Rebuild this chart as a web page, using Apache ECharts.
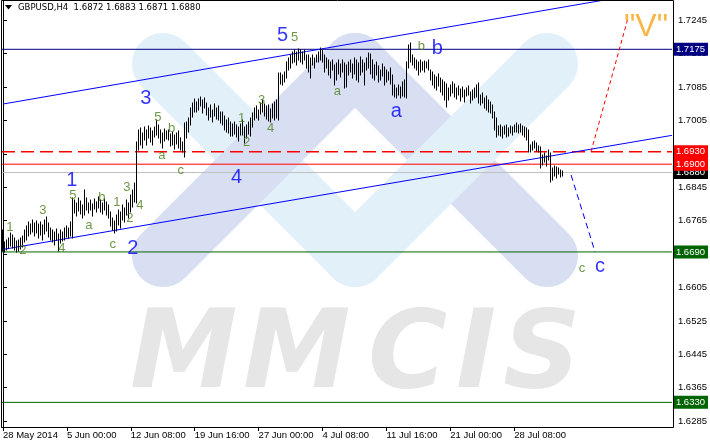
<!DOCTYPE html>
<html>
<head>
<meta charset="utf-8">
<script src="https://cdn.jsdelivr.net/npm/echarts@6.0.0/dist/echarts.min.js"></script>
<style>
  html, body { margin: 0; padding: 0; background: #fff; }
  #chart { width: 710px; height: 445px; }
</style>
</head>
<body>
<div id="chart"></div>
<script>
// GBPUSD H4, one value per bar (28 May 2014 16:00 ... 1 Aug 2014)
var highs = [
  1.6742,1.6714,1.6718,1.6723,1.6735,1.6730,1.6723,1.6716,1.6718,1.6723,
  1.6728,1.6742,1.6752,1.6761,1.6757,1.6766,1.6759,1.6764,1.6757,1.6761,
  1.6754,1.6766,1.6773,1.6759,1.6747,1.6742,1.6737,1.6745,1.6733,1.6742,
  1.6737,1.6747,1.6752,1.6747,1.6761,1.6819,1.6814,1.6807,1.6819,1.6812,
  1.6802,1.6838,1.6819,1.6807,1.6814,1.6805,1.6816,1.6809,1.6821,1.6814,
  1.6807,1.6816,1.6809,1.6802,1.6785,1.6771,1.6764,1.6778,1.6790,1.6785,
  1.6802,1.6795,1.6814,1.6807,1.6826,1.6838,1.6855,1.6953,1.6982,1.6986,
  1.6974,1.6989,1.6982,1.6991,1.6986,1.6979,1.6989,1.7006,1.6994,1.6982,
  1.6974,1.6984,1.6979,1.6982,1.6972,1.6977,1.6970,1.6974,1.6979,1.6962,
  1.6953,1.6998,1.7001,1.7010,1.7034,1.7046,1.7056,1.7049,1.7056,1.7061,
  1.7053,1.7058,1.7046,1.7034,1.7042,1.7030,1.7044,1.7034,1.7039,1.7025,
  1.7025,1.7015,1.7006,1.7010,1.7001,1.6996,1.7001,1.6994,1.6989,1.6996,
  1.7006,1.6989,1.6994,1.7001,1.7010,1.7022,1.7034,1.7039,1.7030,1.7046,
  1.7053,1.7044,1.7039,1.7042,1.7032,1.7044,1.7049,1.7053,1.7118,1.7118,
  1.7113,1.7121,1.7144,1.7154,1.7161,1.7168,1.7173,1.7168,1.7176,1.7173,
  1.7168,1.7173,1.7161,1.7161,1.7154,1.7161,1.7154,1.7161,1.7168,1.7178,
  1.7173,1.7161,1.7154,1.7149,1.7144,1.7149,1.7137,1.7142,1.7149,1.7140,
  1.7149,1.7142,1.7137,1.7144,1.7149,1.7140,1.7154,1.7149,1.7142,1.7156,
  1.7149,1.7142,1.7154,1.7166,1.7164,1.7149,1.7137,1.7144,1.7135,1.7125,
  1.7140,1.7132,1.7125,1.7121,1.7130,1.7113,1.7089,1.7082,1.7089,1.7085,
  1.7097,1.7101,1.7144,1.7185,1.7190,1.7161,1.7154,1.7149,1.7144,1.7149,
  1.7144,1.7147,1.7144,1.7149,1.7125,1.7121,1.7113,1.7109,1.7116,1.7106,
  1.7101,1.7097,1.7092,1.7082,1.7089,1.7097,1.7092,1.7082,1.7087,1.7080,
  1.7085,1.7077,1.7082,1.7087,1.7073,1.7077,1.7082,1.7089,1.7094,1.7065,
  1.7070,1.7058,1.7063,1.7053,1.7049,1.7042,1.7025,1.7010,1.6991,1.6994,
  1.6989,1.6991,1.6994,1.6986,1.6991,1.6989,1.6994,1.6998,1.6994,1.6996,
  1.6991,1.6989,1.6986,1.6982,1.6946,1.6953,1.6955,1.6951,1.6943,1.6941,
  1.6922,1.6927,1.6919,1.6934,1.6927,1.6891,1.6895,1.6893,1.6891,1.6886,
  1.6883
];
var lows = [
  1.6692,1.6690,1.6694,1.6699,1.6704,1.6699,1.6694,1.6690,1.6692,1.6697,
  1.6702,1.6714,1.6718,1.6728,1.6733,1.6737,1.6728,1.6735,1.6723,1.6730,
  1.6718,1.6733,1.6740,1.6726,1.6718,1.6714,1.6706,1.6718,1.6692,1.6711,
  1.6716,1.6718,1.6726,1.6723,1.6728,1.6723,1.6783,1.6776,1.6788,1.6781,
  1.6771,1.6778,1.6790,1.6783,1.6790,1.6776,1.6793,1.6785,1.6795,1.6785,
  1.6781,1.6790,1.6778,1.6771,1.6752,1.6742,1.6735,1.6740,1.6754,1.6747,
  1.6766,1.6761,1.6778,1.6771,1.6785,1.6797,1.6809,1.6807,1.6934,1.6946,
  1.6939,1.6958,1.6946,1.6962,1.6953,1.6946,1.6965,1.6970,1.6962,1.6951,
  1.6939,1.6955,1.6960,1.6958,1.6943,1.6946,1.6936,1.6948,1.6939,1.6934,
  1.6929,1.6917,1.6962,1.6977,1.6994,1.7013,1.7025,1.7025,1.7030,1.7039,
  1.7022,1.7034,1.7018,1.7006,1.7013,1.7001,1.7015,1.7008,1.7006,1.6998,
  1.6994,1.6982,1.6977,1.6974,1.6967,1.6967,1.6972,1.6965,1.6955,1.6970,
  1.6970,1.6951,1.6962,1.6972,1.6967,1.6989,1.7006,1.7010,1.7006,1.7020,
  1.7025,1.7015,1.7008,1.7003,1.7001,1.7010,1.7006,1.7010,1.7006,1.7092,
  1.7089,1.7097,1.7106,1.7125,1.7130,1.7142,1.7144,1.7137,1.7149,1.7144,
  1.7140,1.7149,1.7130,1.7121,1.7106,1.7137,1.7130,1.7144,1.7144,1.7149,
  1.7144,1.7121,1.7130,1.7113,1.7106,1.7125,1.7089,1.7101,1.7116,1.7109,
  1.7121,1.7082,1.7085,1.7113,1.7121,1.7106,1.7116,1.7101,1.7097,1.7113,
  1.7121,1.7089,1.7125,1.7130,1.7116,1.7106,1.7101,1.7113,1.7097,1.7101,
  1.7111,1.7089,1.7097,1.7101,1.7092,1.7065,1.7061,1.7058,1.7065,1.7058,
  1.7063,1.7061,1.7058,1.7130,1.7144,1.7137,1.7130,1.7125,1.7113,1.7121,
  1.7125,1.7121,1.7130,1.7125,1.7101,1.7089,1.7082,1.7077,1.7087,1.7073,
  1.7065,1.7053,1.7037,1.7053,1.7063,1.7070,1.7061,1.7056,1.7065,1.7051,
  1.7061,1.7049,1.7063,1.7065,1.7046,1.7053,1.7058,1.7061,1.7046,1.7042,
  1.7046,1.7034,1.7030,1.7025,1.7022,1.7010,1.6982,1.6965,1.6970,1.6967,
  1.6962,1.6972,1.6965,1.6967,1.6974,1.6970,1.6977,1.6977,1.6974,1.6977,
  1.6970,1.6965,1.6958,1.6929,1.6929,1.6934,1.6939,1.6931,1.6929,1.6891,
  1.6898,1.6905,1.6895,1.6910,1.6857,1.6862,1.6872,1.6867,1.6876,1.6869,
  1.6871
];
var lastBar = [1.6872, 1.6883, 1.6871, 1.6880]; // O H L C

var timeIndex = [0, 32, 64, 96, 128, 160, 192, 224, 256];
var timeLabels = ['28 May 2014', '5 Jun 00:00', '12 Jun 08:00', '19 Jun 16:00', '27 Jun 00:00',
                  '4 Jul 08:00', '11 Jul 16:00', '21 Jul 00:00', '28 Jul 08:00'];
var priceTicks = [1.6285, 1.6365, 1.6445, 1.6525, 1.6605, 1.6685, 1.6765,
                  1.6845, 1.6925, 1.7005, 1.7085, 1.7165, 1.7245];

// horizontal levels
var levelResistance = 1.7175;
var levelDashed = 1.6930;
var levelRed = 1.6900;
var levelBid = 1.6880;
var levelTarget = 1.6690;
var levelLow = 1.6330;

// channel and projections, [bar index, price]
var upperChannel = [[0, 1.7044], [335, 1.7321]];
var lowerChannel = [[0, 1.6696], [335, 1.6969]];
var vPath = [[294.5, 1.6930], [313, 1.7250]];
var cPath = [[284.5, 1.6874], [296.5, 1.6690]];

// wave counts, [bar index, price, text]
var bigWaves = [
  [34.5, 1.6860, '1'], [65, 1.6699, '2'], [71.5, 1.7058, '3'], [117, 1.6869, '4'],
  [140, 1.7209, '5'], [197, 1.7027, 'a'], [217.5, 1.7178, 'b'], [299, 1.6654, 'c']
];
var smallWaves = [
  [3.5, 1.6749, '1'], [10, 1.6694, '2'], [20, 1.6790, '3'], [29.5, 1.6699, '4'],
  [35, 1.6826, '5'], [43, 1.6754, 'a'], [49.5, 1.6821, 'b'], [55, 1.6709, 'c'],
  [57, 1.6809, '1'], [63.5, 1.6771, '2'], [62, 1.6845, '3'], [68.5, 1.6802, '4'],
  [77.5, 1.7013, '5'], [79.5, 1.6922, 'a'], [84.5, 1.6986, 'b'], [89, 1.6886, 'c'],
  [119.5, 1.7010, '1'], [122, 1.6951, '2'], [129.5, 1.7053, '3'], [134, 1.6986, '4'],
  [146, 1.7204, '5'], [167.5, 1.7073, 'a'], [209.5, 1.7183, 'b'], [290, 1.6651, 'c']
];
var vLabel = [[322, 1.7228, '"V"']];

var bars = highs.map(function (h, i) { return [i, lows[i], h]; });

// horizontal level as a line across the grid with a price box at the right
function levelSeries(value, color, boxColor, dashed) {
  return {
    type: 'line', data: [[-0.5, value], [335, value]], symbol: 'none', silent: true, z: 3,
    lineStyle: { color: color, width: dashed ? 1.5 : 1, type: dashed ? [13, 6] : 'solid' },
    endLabel: {
      show: true, distance: 1,
      formatter: value.toFixed(4),
      color: '#fff', backgroundColor: boxColor,
      fontSize: 9.5, fontFamily: 'Liberation Sans',
      padding: [1, 3, 1, 3], lineHeight: 11
    }
  };
}

function labelSeries(data, size, color) {
  return {
    type: 'scatter', data: data, symbolSize: 1, silent: true,
    itemStyle: { color: 'rgba(0,0,0,0)' },
    label: {
      show: true, position: 'inside',
      formatter: function (p) { return p.value[2]; },
      fontSize: size, color: color, fontFamily: 'Liberation Sans'
    },
    z: 6
  };
}

var logoFont = 'italic bold 108px "DejaVu Sans"';
function logoLetter(ch, x) {
  return { type: 'text', z: 0, style: { text: ch, x: x, y: 413, fill: '#e6e6e6', font: logoFont, align: 'left', verticalAlign: 'bottom' } };
}

var chart = echarts.init(document.getElementById('chart'));
chart.setOption({
  animation: false,
  backgroundColor: '#fff',
  grid: { left: 2, right: 37, top: 0, bottom: 18 },
  graphic: [
    // watermark logo
    { type: 'line', z: 0, shape: { x1: 163, y1: 64, x2: 355, y2: 256 },
      style: { stroke: '#e2f0fa', lineWidth: 62, lineCap: 'round' } },
    { type: 'line', z: 0, shape: { x1: 355, y1: 64, x2: 547, y2: 256 },
      style: { stroke: '#d9dff3', lineWidth: 62, lineCap: 'round' } },
    { type: 'line', z: 0, shape: { x1: 355, y1: 256, x2: 547, y2: 64 },
      style: { stroke: '#e2f0fa', lineWidth: 62, lineCap: 'round' } },
    { type: 'line', z: 0, shape: { x1: 163, y1: 256, x2: 355, y2: 64 },
      style: { stroke: '#d9dff3', lineWidth: 62, lineCap: 'round' } },
    logoLetter('M', 130),
    logoLetter('M', 243),
    logoLetter('C', 368),
    logoLetter('I', 456),
    logoLetter('S', 503),
    // frame and title
    { type: 'rect', z: 10, shape: { x: 1.5, y: 0.5, width: 672, height: 427 },
      style: { fill: 'none', stroke: '#000', lineWidth: 1 } },
    { type: 'polygon', z: 10, shape: { points: [[5, 5], [12, 5], [8.5, 9.5]] }, style: { fill: '#000' } },
    { type: 'text', z: 10, style: {
        text: 'GBPUSD,H4  ' + lastBar.map(function (v) { return v.toFixed(4); }).join(' '),
        x: 18, y: 8, fill: '#000', font: '8.5px "DejaVu Sans"', align: 'left', verticalAlign: 'middle' } }
  ],
  xAxis: {
    type: 'value', min: -0.5, max: 335,
    axisLine: { show: true, lineStyle: { color: '#000', width: 1 } },
    axisTick: { show: true, customValues: timeIndex, length: 4, lineStyle: { color: '#000' } },
    axisLabel: {
      customValues: timeIndex,
      formatter: function (v) { return timeLabels[timeIndex.indexOf(Math.round(v))]; },
      align: 'left', margin: 3, fontSize: 9.5, color: '#000', fontFamily: 'Liberation Sans'
    },
    splitLine: { show: false }
  },
  yAxis: {
    type: 'value', position: 'right', min: 1.6271, max: 1.7293,
    axisLine: { show: true, lineStyle: { color: '#000', width: 1 } },
    axisTick: { show: true, customValues: priceTicks, length: 4, lineStyle: { color: '#000' } },
    axisLabel: {
      customValues: priceTicks,
      formatter: function (v) { return v.toFixed(4); },
      margin: 6, fontSize: 9.5, color: '#000', fontFamily: 'Liberation Sans'
    },
    splitLine: { show: false }
  },
  series: [
    {
      type: 'custom',
      data: bars,
      encode: { x: 0, y: [1, 2] },
      silent: true,
      z: 4,
      renderItem: function (params, api) {
        var lo = api.coord([api.value(0), api.value(1)]);
        var hi = api.coord([api.value(0), api.value(2)]);
        var x = Math.floor(lo[0]) + 0.5;
        return {
          type: 'line',
          shape: { x1: x, y1: Math.round(lo[1]) + 0.5, x2: x, y2: Math.round(hi[1]) - 0.5 },
          style: { stroke: '#000', lineWidth: 1 }
        };
      }
    },
    levelSeries(levelResistance, '#000080', '#000080', false),
    levelSeries(levelDashed, '#ff0000', '#ff0000', true),
    levelSeries(levelBid, '#c0c0c0', '#000000', false),
    levelSeries(levelRed, '#ff0000', '#ff0000', false),
    levelSeries(levelTarget, '#006400', '#006400', false),
    levelSeries(levelLow, '#006400', '#006400', false),
    {
      type: 'line', data: upperChannel, symbol: 'none', silent: true, z: 3,
      lineStyle: { color: '#0000ff', width: 1 }
    },
    {
      type: 'line', data: lowerChannel, symbol: 'none', silent: true, z: 3,
      lineStyle: { color: '#0000ff', width: 1 }
    },
    {
      type: 'line', data: vPath, symbol: 'none', silent: true, z: 3,
      lineStyle: { color: '#ff0000', width: 1, type: [4, 3] }
    },
    {
      type: 'line', data: cPath, symbol: 'none', silent: true, z: 3,
      lineStyle: { color: '#0000ff', width: 1, type: [6, 4] }
    },
    labelSeries(bigWaves, 20, '#0000ff'),
    labelSeries(smallWaves, 13, '#4a7d16'),
    labelSeries(vLabel, 32, '#f9a31a')
  ]
});
</script>
</body>
</html>
